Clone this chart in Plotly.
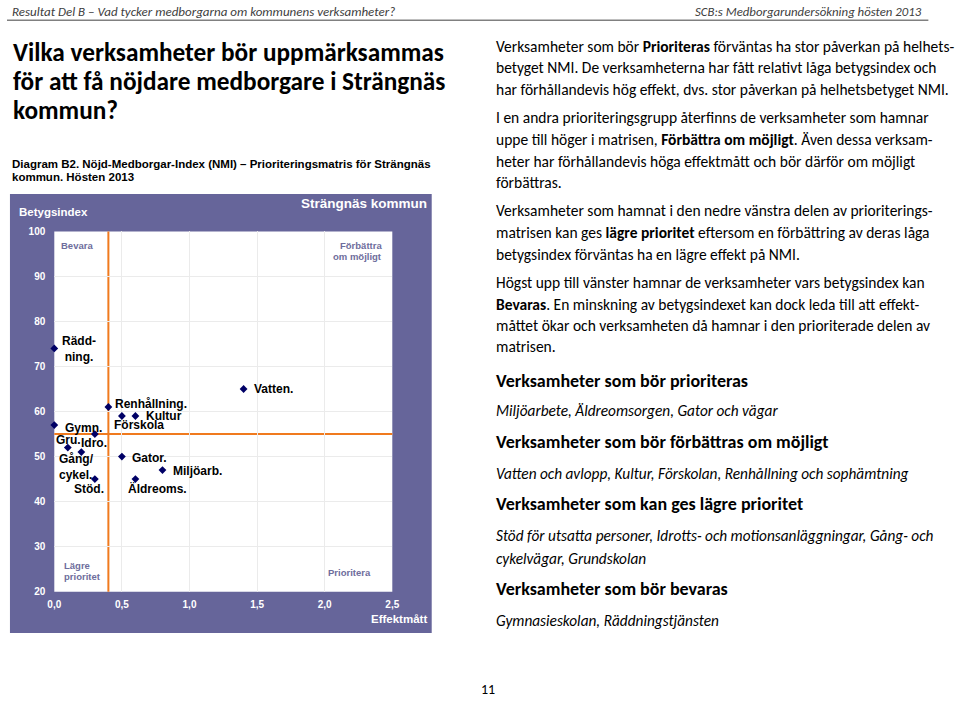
import plotly.graph_objects as go

# ---------------- data ----------------
labels = ["Vatten.", "Renhållning.", "Kultur", "Förskola", "Gymn.", "Idro.", "Gru.",
          "Gång/<br>cykel.", "Stöd.", "Gator.", "Miljöarb.", "Äldreoms.", "Rädd-<br>ning."]
effekt = [1.4, 0.4, 0.6, 0.5, 0.0, 0.3, 0.1, 0.2, 0.3, 0.5, 0.8, 0.6, 0.0]
betyg = [65, 61, 59, 59, 57, 55, 52, 51, 45, 50, 47, 45, 74]
x_threshold = 0.4
y_threshold = 55
x_ticks = [0.0, 0.5, 1.0, 1.5, 2.0, 2.5]
y_ticks = [20, 30, 40, 50, 60, 70, 80, 90, 100]

# label placement (style): xanchor, xshift, yshift, align
label_pos = [
    ("left", 8, 0, "left"), ("left", 4.5, 3, "left"), ("left", 8.5, 0, "left"),
    ("left", -9.5, -9, "left"), ("left", 9, -3, "left"), ("center", -1, -8.5, "center"),
    ("center", 0.5, 7.5, "center"), ("left", -24, -15, "left"), ("right", 11, -10, "right"),
    ("left", 8.5, -1, "left"), ("left", 9, -1, "left"), ("left", -9.5, -9.5, "left"),
    ("center", 25, -1, "center"),
]

W, H = 960, 701
def px(x):
    return x / W
def py(y):
    return 1 - y / H

PURPLE = "#66659a"
ORANGE = "#f07a1e"
NAVY = "#000066"
ARIAL = "Liberation Sans, Arial, sans-serif"
CAL = "Carlito, Lato, sans-serif"

fig = go.Figure()
fig.add_trace(go.Scatter(
    x=effekt, y=betyg, mode="markers", cliponaxis=False,
    marker=dict(symbol="diamond", size=6, color=NAVY),
    hoverinfo="skip", showlegend=False))

ann = []
for lab, xv, yv, (xa, xs, ys, al) in zip(labels, effekt, betyg, label_pos):
    ann.append(dict(x=xv, y=yv, xref="x", yref="y", text=lab, showarrow=False,
                    xanchor=xa, yanchor="middle", xshift=xs, yshift=ys, align=al,
                    font=dict(family=ARIAL, size=12, color="black", weight="bold")))

def txt(x, y, s, size, color="black", family=CAL, xanchor="left", weight="normal",
        style="normal", align="left"):
    ann.append(dict(x=px(x), y=py(y), xref="paper", yref="paper", text=s, showarrow=False,
                    xanchor=xanchor, yanchor="middle", align=align,
                    font=dict(family=family, size=size, color=color, weight=weight, style=style)))

# header
txt(3, 7, "Resultat Del B – Vad tycker medborgarna om kommunens verksamheter?", 13, "#404040", style="italic")
txt(931, 7, "SCB:s Medborgarundersökning hösten 2013", 12.8, "#404040", xanchor="right", style="italic")
txt(488, 695, "11", 14, "black", xanchor="center")

# title
for yy, s in zip([48, 78, 107], ["Vilka verksamheter bör uppmärksammas",
                                  "för att få nöjdare medborgare i Strängnäs",
                                  "kommun?"]):
    txt(4, yy, s, 25.3, "black", weight="bold")

txt(3, 162, "Diagram B2. Nöjd-Medborgar-Index (NMI) – Prioriteringsmatris för Strängnäs", 11.5, "black", family=ARIAL, weight="bold")
txt(3, 175, "kommun. Hösten 2013", 11.5, "black", family=ARIAL, weight="bold")

# chart texts
txt(10, 210, "Betygsindex", 11.5, "white", family=ARIAL, weight="bold")
txt(428, 202, "Strängnäs kommun", 13.5, "white", family=ARIAL, weight="bold", xanchor="right")
txt(428, 624, "Effektmått", 11.5, "white", family=ARIAL, weight="bold", xanchor="right")
QC = "#6e6d9c"
txt(53, 244, "Bevara", 9.5, QC, family=ARIAL, weight="bold")
txt(383, 244, "Förbättra", 9.5, QC, family=ARIAL, weight="bold", xanchor="right")
txt(383, 256, "om möjligt", 9.5, QC, family=ARIAL, weight="bold", xanchor="right")
txt(56, 569, "Lägre", 9.5, QC, family=ARIAL, weight="bold")
txt(56, 581, "prioritet", 9.5, QC, family=ARIAL, weight="bold")
txt(371, 577, "Prioritera", 9.5, QC, family=ARIAL, weight="bold", xanchor="right")

# right column text
body = [
    (42, "Verksamheter som bör <b>Prioriteras</b> förväntas ha stor påverkan på helhets-"),
    (64, "betyget NMI. De verksamheterna har fått relativt låga betygsindex och"),
    (86, "har förhållandevis hög effekt, dvs. stor påverkan på helhetsbetyget NMI."),
    (114.5, "I en andra prioriteringsgrupp återfinns de verksamheter som hamnar"),
    (136.5, "uppe till höger i matrisen, <b>Förbättra om möjligt</b>. Även dessa verksam-"),
    (158.5, "heter har förhållandevis höga effektmått och bör därför om möjligt"),
    (180, "förbättras."),
    (209, "Verksamheter som hamnat i den nedre vänstra delen av prioriterings-"),
    (231, "matrisen kan ges <b>lägre prioritet</b> eftersom en förbättring av deras låga"),
    (253, "betygsindex förväntas ha en lägre effekt på NMI."),
    (282, "Högst upp till vänster hamnar de verksamheter vars betygsindex kan"),
    (304, "<b>Bevaras</b>. En minskning av betygsindexet kan dock leda till att effekt-"),
    (325.5, "måttet ökar och verksamheten då hamnar i den prioriterade delen av"),
    (347, "matrisen."),
]
for yy, s in body:
    txt(494, yy, s, 15.5, "black")

heads = [(382, "Verksamheter som bör prioriteras"),
         (444, "Verksamheter som bör förbättras om möjligt"),
         (507, "Verksamheter som kan ges lägre prioritet"),
         (593, "Verksamheter som bör bevaras")]
for yy, s in heads:
    txt(494, yy, s, 18, "black", weight="bold")
items = [(412, "Miljöarbete, Äldreomsorgen, Gator och vägar"),
         (476, "Vatten och avlopp, Kultur, Förskolan, Renhållning och sophämtning"),
         (539, "Stöd för utsatta personer, Idrotts- och motionsanläggningar, Gång- och"),
         (562, "cykelvägar, Grundskolan"),
         (625, "Gymnasieskolan, Räddningstjänsten")]
for yy, s in items:
    txt(494, yy, s, 15.3, "black", style="italic")

shapes = [
    dict(type="rect", xref="paper", yref="paper", x0=px(3), x1=px(431), y0=py(638), y1=py(192),
         fillcolor=PURPLE, line=dict(width=0), layer="below"),
    dict(type="rect", xref="paper", yref="paper", x0=px(48), x1=px(391), y0=py(596), y1=py(230),
         fillcolor="white", line=dict(width=0), layer="below"),
    dict(type="line", xref="paper", yref="paper", x0=px(0), x1=px(935), y0=py(15.5), y1=py(15.5),
         line=dict(color="#808080", width=1.5)),
    dict(type="line", xref="x", yref="y domain", x0=x_threshold, x1=x_threshold, y0=0, y1=1,
         line=dict(color=ORANGE, width=2), layer="below"),
    dict(type="line", xref="x domain", yref="y", x0=0, x1=1, y0=y_threshold, y1=y_threshold,
         line=dict(color=ORANGE, width=2), layer="below"),
]

tickfont = dict(family=ARIAL, size=10, color="white", weight="bold")
fig.update_layout(
    width=W, height=H, margin=dict(l=0, r=0, t=0, b=0),
    paper_bgcolor="white", plot_bgcolor="white",
    separators=", ",
    showlegend=False,
    xaxis=dict(domain=[px(48), px(391)], range=[0, 2.5], tickvals=x_ticks, tickformat=".1f",
               showgrid=True, gridcolor="#ebebeb", gridwidth=1, zeroline=False, showline=False,
               ticks="outside", ticklen=3, tickcolor=PURPLE, tickfont=tickfont, fixedrange=True),
    yaxis=dict(domain=[py(596), py(230)], range=[20, 100], tickvals=y_ticks,
               showgrid=True, gridcolor="#ebebeb", gridwidth=1, zeroline=False, showline=False,
               ticks="outside", ticklen=6, tickcolor=PURPLE, tickfont=tickfont, fixedrange=True),
    annotations=ann, shapes=shapes,
)

fig.write_html("out.html")
